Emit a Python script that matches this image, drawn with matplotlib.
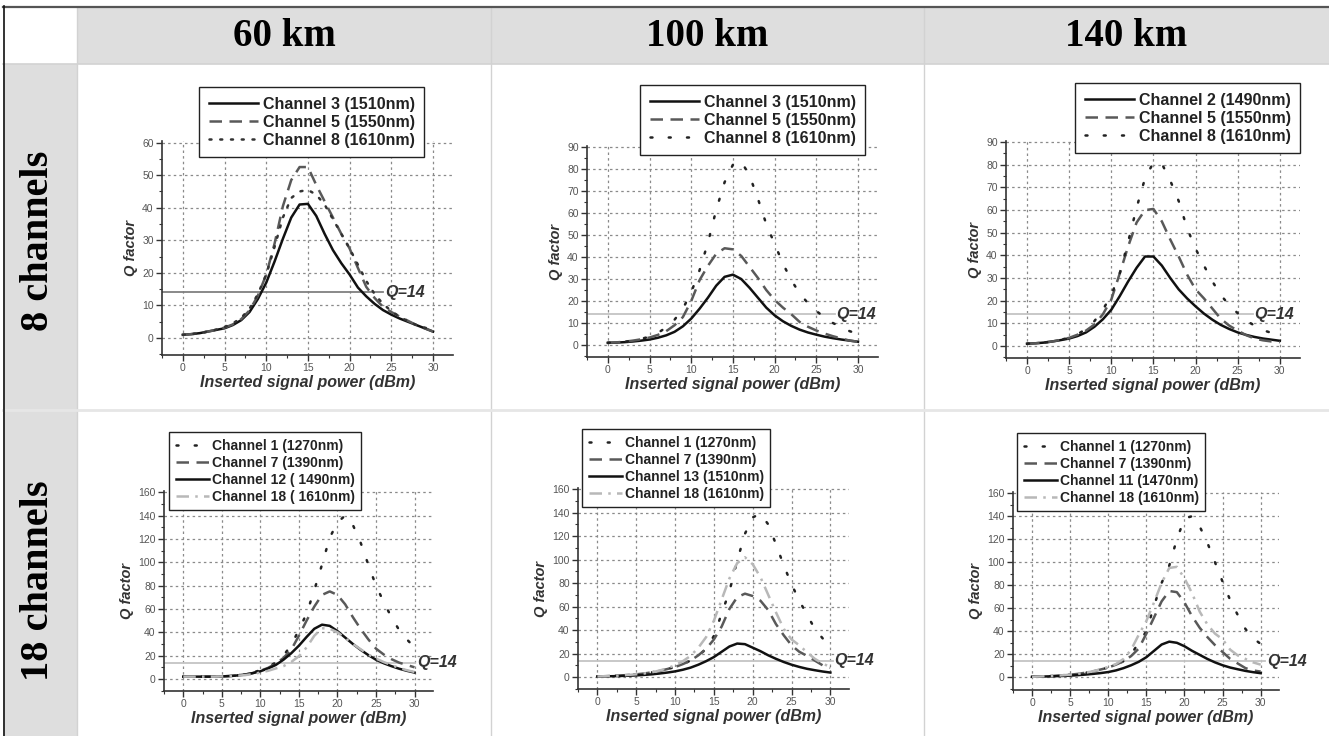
import matplotlib
matplotlib.use("Agg")
import matplotlib.pyplot as plt
from matplotlib.patches import Rectangle
from matplotlib.lines import Line2D
from matplotlib.ticker import MultipleLocator, AutoMinorLocator

# ---------------- data ----------------
POWER_DBM = list(range(0, 31))
Q_THRESHOLD = 14
COL_TITLES = ["60 km", "100 km", "140 km"]
ROW_TITLES = ["8 channels", "18 channels"]

# 8 channels, 60 km
q_60_8_ch3 = [1.0, 1.2, 1.5, 2.0, 2.5, 3.0, 4.0, 5.5, 8.0, 12.0, 17.0, 23.5, 30.5, 37.0, 41.0, 41.2,
              37.5, 32.0, 27.0, 23.0, 19.5, 15.5, 12.8, 10.5, 8.6, 7.2, 6.0, 5.0, 4.0, 3.0, 2.0]
q_60_8_ch5 = [1.0, 1.2, 1.5, 2.0, 2.5, 3.2, 4.2, 5.8, 8.5, 13.0, 19.5, 29.0, 40.5, 48.5, 52.5, 52.5,
              47.0, 42.0, 37.0, 32.0, 27.5, 21.5, 15.7, 12.3, 9.6, 8.0, 6.6, 5.3, 4.0, 3.0, 2.0]
q_60_8_ch8 = [1.0, 1.2, 1.5, 2.0, 2.6, 3.4, 4.5, 6.2, 9.0, 13.5, 19.5, 28.0, 37.0, 43.0, 45.0, 45.5,
              44.0, 41.0, 36.5, 32.0, 27.5, 22.5, 17.5, 13.5, 10.5, 8.3, 6.5, 5.2, 4.0, 3.2, 2.5]
# 8 channels, 100 km
q_100_8_ch3 = [1.0, 1.1, 1.3, 1.6, 2.0, 2.5, 3.3, 4.4, 6.0, 8.5, 12.0, 16.5, 21.5, 27.0, 31.0, 32.0,
               30.0, 26.0, 21.5, 17.0, 13.5, 10.8, 8.7, 7.0, 5.7, 4.7, 3.8, 3.1, 2.5, 2.0, 1.5]
q_100_8_ch5 = [1.0, 1.2, 1.5, 2.0, 2.6, 3.4, 4.6, 6.3, 9.0, 12.7, 20.0, 29.5, 36.0, 41.5, 44.0, 43.5,
               40.5, 35.5, 30.5, 25.0, 20.5, 17.0, 14.0, 10.5, 8.3, 6.6, 5.2, 4.0, 3.0, 2.0, 1.5]
q_100_8_ch8 = [1.0, 1.2, 1.5, 2.0, 2.8, 3.8, 5.5, 8.0, 11.5, 16.5, 24.0, 34.0, 46.5, 61.5, 74.0, 82.0,
               83.5, 77.0, 66.5, 55.0, 46.0, 37.0, 29.5, 23.5, 19.0, 15.5, 12.5, 10.0, 8.0, 6.3, 5.0]
# 8 channels, 140 km
q_140_8_ch2 = [1.0, 1.2, 1.5, 2.0, 2.6, 3.3, 4.4, 6.0, 8.5, 11.8, 16.0, 22.0, 28.5, 34.5, 39.5, 39.5,
               35.5, 30.0, 25.0, 21.0, 17.5, 14.3, 11.6, 9.3, 7.5, 6.0, 4.9, 4.0, 3.3, 2.8, 2.3]
q_140_8_ch5 = [1.0, 1.2, 1.5, 2.0, 2.7, 3.6, 5.0, 6.8, 9.5, 14.0, 20.5, 32.0, 44.0, 54.5, 60.0, 60.5,
               55.0, 47.0, 39.5, 31.5, 25.0, 21.0, 16.5, 12.0, 9.0, 6.8, 4.8, 3.3, 2.5, 2.0, 1.7]
q_140_8_ch8 = [1.0, 1.2, 1.5, 2.0, 2.7, 3.7, 5.2, 7.5, 11.0, 16.0, 22.5, 32.0, 46.0, 61.0, 74.0, 81.0,
               80.5, 73.0, 64.0, 52.0, 43.0, 35.5, 28.5, 22.5, 18.0, 14.5, 11.3, 9.0, 7.0, 5.8, 4.8]
# 18 channels, 60 km
q_60_18_ch1 = [2.0, 2.0, 2.0, 2.0, 2.0, 2.2, 2.5, 3.0, 4.0, 5.5, 7.5, 10.5, 14.0, 20.0, 29.0, 42.0,
               56.0, 76.0, 98.0, 121.0, 134.0, 140.0, 132.0, 117.0, 98.0, 80.0, 66.0, 53.0, 42.0, 34.0, 27.0]
q_60_18_ch7 = [2.0, 2.0, 2.0, 2.0, 2.0, 2.2, 2.5, 3.0, 3.8, 5.0, 7.0, 9.5, 13.0, 18.0, 25.0, 37.0,
               50.0, 62.0, 72.0, 75.0, 72.0, 64.0, 53.0, 43.0, 34.0, 26.0, 21.0, 17.0, 14.0, 12.0, 10.0]
q_60_18_ch12 = [2.0, 2.0, 2.0, 2.0, 2.0, 2.2, 2.5, 3.0, 3.8, 5.0, 6.6, 9.0, 12.0, 16.5, 22.0, 28.5,
                36.0, 43.0, 46.5, 45.5, 41.0, 35.5, 30.0, 25.0, 20.5, 16.5, 13.5, 11.0, 8.8, 7.0, 5.5]
q_60_18_ch18 = [2.0, 2.0, 2.0, 2.0, 2.0, 2.2, 2.4, 2.8, 3.3, 4.2, 5.5, 7.0, 9.0, 11.0, 14.5, 19.5,
                27.0, 37.0, 43.5, 43.0, 40.0, 35.0, 30.0, 25.5, 21.0, 17.5, 14.5, 12.0, 9.5, 7.5, 6.0]
# 18 channels, 100 km
q_100_18_ch1 = [0.5, 0.7, 1.0, 1.3, 1.8, 2.3, 3.0, 4.0, 5.2, 6.8, 8.5, 11.0, 14.0, 18.0, 24.0, 35.0,
                54.0, 73.0, 99.0, 122.0, 136.0, 139.0, 130.0, 113.0, 95.0, 79.0, 65.0, 53.0, 41.0, 33.0, 26.0]
q_100_18_ch7 = [0.5, 0.7, 1.0, 1.3, 1.8, 2.3, 3.0, 4.0, 5.2, 6.8, 8.5, 11.0, 14.0, 18.5, 24.0, 32.0,
                43.0, 58.0, 68.0, 71.0, 69.0, 65.0, 57.0, 45.0, 35.5, 27.0, 21.5, 18.0, 14.0, 10.0, 8.0]
q_100_18_ch13 = [0.5, 0.6, 0.7, 0.9, 1.1, 1.4, 1.8, 2.3, 3.0, 3.8, 4.8, 6.2, 8.0, 10.5, 13.5, 17.0,
                 21.5, 26.0, 28.5, 28.0, 25.0, 22.0, 18.5, 15.5, 12.8, 10.5, 8.6, 7.0, 5.8, 4.7, 3.8]
q_100_18_ch18 = [0.5, 0.7, 1.0, 1.3, 1.8, 2.3, 3.0, 4.0, 5.5, 7.5, 10.0, 13.5, 18.0, 25.0, 34.0, 48.0,
                 66.0, 84.0, 97.0, 102.0, 96.0, 85.0, 70.0, 55.0, 41.0, 32.0, 27.0, 21.0, 15.5, 11.5, 8.5]
# 18 channels, 140 km
q_140_18_ch1 = [0.5, 0.7, 1.0, 1.3, 1.8, 2.3, 3.0, 4.0, 5.2, 6.8, 8.5, 11.0, 14.0, 20.0, 30.0, 40.0,
                62.0, 82.0, 97.0, 120.0, 138.0, 140.0, 131.0, 117.0, 100.0, 83.0, 67.0, 54.0, 42.0, 34.0, 29.0]
q_140_18_ch7 = [0.5, 0.7, 1.0, 1.3, 1.8, 2.3, 3.0, 4.0, 5.2, 6.8, 8.5, 11.0, 14.0, 18.5, 25.0, 38.0,
                52.0, 66.0, 75.0, 74.0, 65.0, 53.0, 43.0, 35.0, 28.0, 22.0, 16.0, 12.0, 8.0, 6.0, 5.0]
q_140_18_ch11 = [0.5, 0.6, 0.8, 1.0, 1.2, 1.5, 1.9, 2.4, 3.0, 3.7, 4.6, 6.0, 8.0, 10.5, 13.5, 17.5,
                 23.0, 28.5, 31.0, 30.0, 27.0, 23.0, 19.5, 16.0, 13.0, 10.5, 8.5, 7.0, 5.6, 4.5, 3.6]
q_140_18_ch18 = [0.5, 0.7, 1.0, 1.3, 1.8, 2.3, 3.0, 4.0, 5.3, 7.0, 9.0, 11.5, 16.0, 24.0, 37.0, 49.0,
                 65.0, 82.0, 95.0, 96.0, 86.0, 73.0, 57.0, 46.0, 38.0, 33.0, 24.0, 19.0, 16.0, 13.0, 11.0]

# ---------------- styles ----------------
W, H = 1329, 736
FS = {
    "solid": dict(color="#111111", lw=1.8, ls="-"),
    "dash": dict(color="#595959", lw=1.8, ls=(0, (5, 3))),
    "dot_dense": dict(color="#333333", lw=1.8, ls=(0, (0.8, 3.5)), dash_capstyle="round"),
    "dot_sparse": dict(color="#222222", lw=1.8, ls=(0, (0.8, 6.5)), dash_capstyle="round"),
    "dashdot": dict(color="#b8b8b8", lw=1.8, ls=(0, (5, 2.5, 1, 2.5))),
}

TOP_LEG = dict(size=11.5, borderpad=0.6, labelspacing=0.19, handlelength=3.1, handletextpad=0.3)
BOT_LEG = dict(size=10.0, borderpad=0.47, labelspacing=0.22, handlelength=2.4, handletextpad=0.2)

panels = [
    # row 0
    dict(series=[(q_60_8_ch3, "Channel 3 (1510nm)", "solid"),
                 (q_60_8_ch5, "Channel 5 (1550nm)", "dash"),
                 (q_60_8_ch8, "Channel 8 (1610nm)", "dot_dense")],
         px=(162, 453, 141, 355), ylim=(-5.2, 60.5), ystep=10,
         leg=(199, 87), legstyle=TOP_LEG, qline_end=24.0, qcolor="#808080", qtext_x=24.3),
    dict(series=[(q_100_8_ch3, "Channel 3 (1510nm)", "solid"),
                 (q_100_8_ch5, "Channel 5 (1550nm)", "dash"),
                 (q_100_8_ch8, "Channel 8 (1610nm)", "dot_sparse")],
         px=(587, 878, 146, 357), ylim=(-5.45, 90.5), ystep=10,
         leg=(640, 85), legstyle=TOP_LEG, qline_end=27.2, qcolor="#c4c4c4", qtext_x=27.4),
    dict(series=[(q_140_8_ch2, "Channel 2 (1490nm)", "solid"),
                 (q_140_8_ch5, "Channel 5 (1550nm)", "dash"),
                 (q_140_8_ch8, "Channel 8 (1610nm)", "dot_sparse")],
         px=(1006, 1300, 141, 358), ylim=(-5.3, 90.5), ystep=10,
         leg=(1075, 83), legstyle=TOP_LEG, qline_end=26.8, qcolor="#c4c4c4", qtext_x=27.0),
    # row 1
    dict(series=[(q_60_18_ch1, "Channel 1 (1270nm)", "dot_sparse"),
                 (q_60_18_ch7, "Channel 7 (1390nm)", "dash"),
                 (q_60_18_ch12, "Channel 12 ( 1490nm)", "solid"),
                 (q_60_18_ch18, "Channel 18 ( 1610nm)", "dashdot")],
         px=(164, 433, 491, 691), ylim=(-10.3, 161), ystep=20,
         leg=(169, 432), legstyle=BOT_LEG, qline_end=30.0, qcolor="#c4c4c4", qtext_x=30.3),
    dict(series=[(q_100_18_ch1, "Channel 1 (1270nm)", "dot_sparse"),
                 (q_100_18_ch7, "Channel 7 (1390nm)", "dash"),
                 (q_100_18_ch13, "Channel 13 (1510nm)", "solid"),
                 (q_100_18_ch18, "Channel 18 (1610nm)", "dashdot")],
         px=(578, 849, 488, 689), ylim=(-10.2, 161), ystep=20,
         leg=(582, 429), legstyle=BOT_LEG, qline_end=30.3, qcolor="#c4c4c4", qtext_x=30.5),
    dict(series=[(q_140_18_ch1, "Channel 1 (1270nm)", "dot_sparse"),
                 (q_140_18_ch7, "Channel 7 (1390nm)", "dash"),
                 (q_140_18_ch11, "Channel 11 (1470nm)", "solid"),
                 (q_140_18_ch18, "Channel 18 (1610nm)", "dashdot")],
         px=(1013, 1279, 492, 690), ylim=(-11, 161), ystep=20,
         leg=(1017, 433), legstyle=BOT_LEG, qline_end=30.6, qcolor="#c4c4c4", qtext_x=30.8),
]

fig = plt.figure(figsize=(W / 100, H / 100), dpi=100)

# ---------------- table background ----------------
bg = fig.add_axes([0, 0, 1, 1], zorder=0)
bg.set_xlim(0, W)
bg.set_ylim(H, 0)
bg.axis("off")
GRAY = "#dedede"
SEP = "#d2d2d2"
bg.add_patch(Rectangle((77, 7), W - 77, 57, facecolor=GRAY, edgecolor="none"))
bg.add_patch(Rectangle((3, 64), 74, H - 64, facecolor=GRAY, edgecolor="none"))
for xv in (77, 491, 924):
    bg.add_line(Line2D([xv, xv], [7, H], color=SEP, lw=1.0))
bg.add_line(Line2D([3, W], [64, 64], color=SEP, lw=1.2))
bg.add_line(Line2D([3, W], [410, 410], color="#e6e6e6", lw=2.0))
bg.add_line(Line2D([3, W], [6.5, 6.5], color="#555555", lw=1.6))
bg.add_line(Line2D([3.5, 3.5], [6, H], color="#111111", lw=1.2))

for t, cx in zip(COL_TITLES, (284, 707, 1126)):
    bg.text(cx, 36, t, ha="center", va="center", fontsize=28, fontweight="bold",
            family="Liberation Serif", color="#000000")
for t, cy in zip(ROW_TITLES, (241, 581)):
    bg.text(39, cy, t, ha="center", va="center", fontsize=29, fontweight="bold",
            family="Liberation Serif", color="#000000", rotation=90)

# ---------------- panels ----------------
XLIM = (-2.5, 32.4)
for p in panels:
    l, r, t, b = p["px"]
    ax = fig.add_axes([l / W, 1 - b / H, (r - l) / W, (b - t) / H], zorder=2)
    ax.set_facecolor("none")
    handles = []
    for vals, lab, sty in p["series"]:
        h, = ax.plot(POWER_DBM, vals, label=lab, zorder=3, **FS[sty])
        handles.append(h)
    ax.set_xlim(*XLIM)
    ax.set_ylim(*p["ylim"])
    frac = (p["qline_end"] - XLIM[0]) / (XLIM[1] - XLIM[0])
    ax.axhline(Q_THRESHOLD, xmin=0, xmax=frac, color=p["qcolor"], lw=1.3, zorder=2)
    ax.text(p["qtext_x"], Q_THRESHOLD, "Q=%d" % Q_THRESHOLD, ha="left", va="center",
            fontsize=11.5, fontstyle="italic", fontweight="bold", family="Liberation Sans",
            color="#333333", clip_on=False, zorder=4)

    ax.xaxis.set_major_locator(MultipleLocator(5))
    ax.xaxis.set_minor_locator(AutoMinorLocator(2))
    ax.yaxis.set_major_locator(MultipleLocator(p["ystep"]))
    ax.yaxis.set_minor_locator(AutoMinorLocator(2))
    ax.set_xticks([v for v in range(0, 31, 5)])
    ax.grid(True, which="major", color="#8a8a8a", lw=0.9, ls=(0, (2, 2.5)), zorder=1)
    for s in ("top", "right"):
        ax.spines[s].set_visible(False)
    for s in ("left", "bottom"):
        ax.spines[s].set_color("#333333")
        ax.spines[s].set_linewidth(1.2)
    ax.tick_params(which="major", direction="out", length=4, width=1, color="#333333",
                   labelsize=7.5, labelcolor="#555555", pad=2)
    ax.tick_params(which="minor", direction="out", length=2, width=0.8, color="#333333")
    ax.set_xlabel("Inserted signal power (dBm)", fontsize=11.5, fontstyle="italic",
                  fontweight="bold", family="Liberation Sans", color="#333333", labelpad=1)
    ax.set_ylabel("Q factor", fontsize=10.5, fontstyle="italic", fontweight="bold",
                  family="Liberation Sans", color="#333333", labelpad=3)
    for lab in ax.get_xticklabels() + ax.get_yticklabels():
        lab.set_family("Liberation Sans")

    lx, ly = p["leg"]
    ls_ = p["legstyle"]
    leg = fig.legend(handles=handles, loc="upper left",
                     bbox_to_anchor=(lx / W, 1 - ly / H), bbox_transform=fig.transFigure,
                     prop=dict(family="Liberation Sans", weight="bold", size=ls_["size"]),
                     frameon=True, fancybox=False, edgecolor="#222222", framealpha=1,
                     borderpad=ls_["borderpad"], labelspacing=ls_["labelspacing"],
                     handlelength=ls_["handlelength"], handletextpad=ls_["handletextpad"],
                     borderaxespad=0)
    leg.get_frame().set_linewidth(1.0)
    leg.set_zorder(5)
    for txt in leg.get_texts():
        txt.set_color("#222222")

fig.savefig("out.png", dpi=100)
